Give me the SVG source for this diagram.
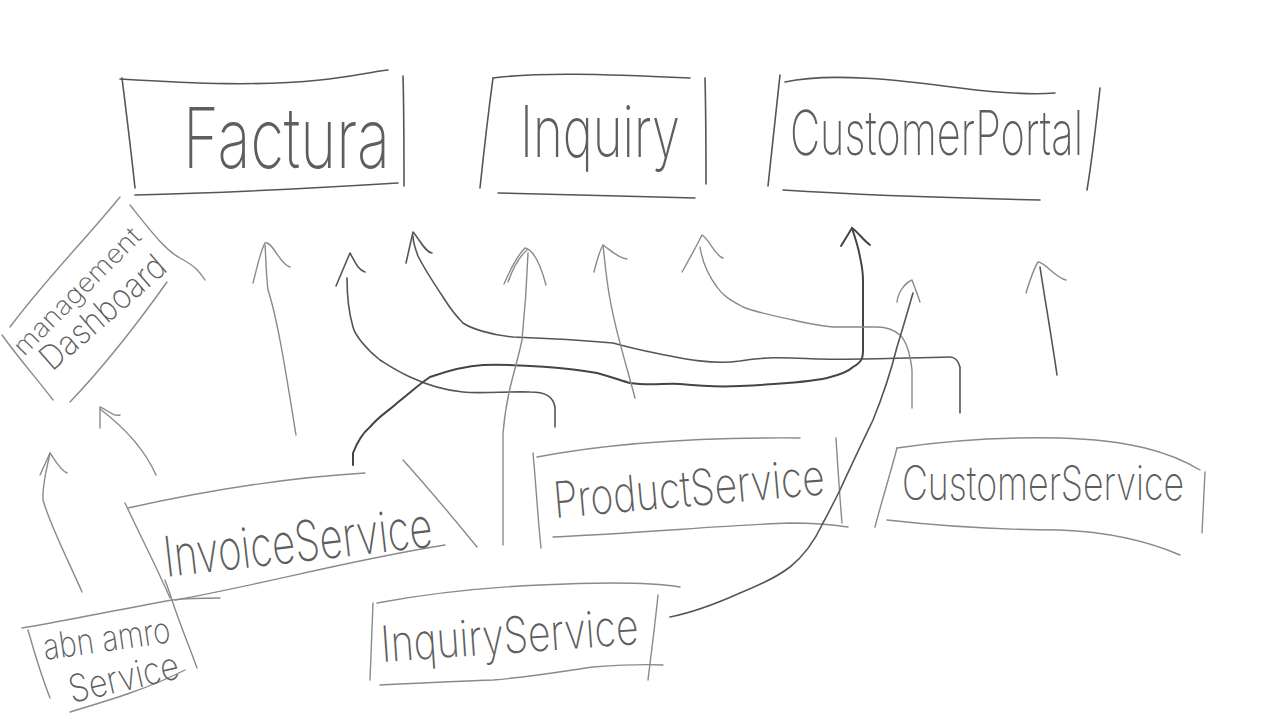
<svg xmlns="http://www.w3.org/2000/svg" width="1280" height="720" viewBox="0 0 1280 720">
<style>
.s{fill:none;stroke:#555;stroke-width:1.6;stroke-linecap:round;stroke-linejoin:round}
.l{fill:none;stroke:#8a8a8a;stroke-width:1.4;stroke-linecap:round;stroke-linejoin:round}
.d{fill:none;stroke:#444;stroke-width:2;stroke-linecap:round;stroke-linejoin:round}
.t{font-family:"Inter","Liberation Sans","DejaVu Sans",sans-serif;font-weight:200;fill:#5e5e5e}
</style>
<rect width="1280" height="720" fill="#fff"/>
<g id="factura">
<path class="s" d="M120 79 C200 84 260 86 320 80 C350 77 370 72 388 70"/>
<path class="s" d="M122 78 C126 110 131 150 135 188"/>
<path class="s" d="M403 76 C404 110 404 150 404 186"/>
<path class="s" d="M135 195 C220 193 300 189 398 183"/>
<text class="t" x="183" y="168" font-size="84" textLength="207" lengthAdjust="spacingAndGlyphs">Factura</text>
</g>
<g id="inquiry">
<path class="s" d="M493 78 C540 72 600 74 690 78"/>
<path class="s" d="M493 78 C488 115 484 150 480 188"/>
<path class="s" d="M705 78 C706 115 706 150 706 184"/>
<path class="s" d="M498 193 C560 195 630 196 695 198"/>
<text class="t" x="520" y="157" font-size="72" textLength="160" lengthAdjust="spacingAndGlyphs">Inquiry</text>
</g>
<g id="customerportal">
<path class="s" d="M785 82 C830 72 900 80 960 88 C1000 93 1030 95 1055 93"/>
<path class="s" d="M780 75 C776 110 772 150 768 186"/>
<path class="s" d="M1100 88 C1096 125 1092 160 1087 190"/>
<path class="s" d="M783 190 C860 195 950 198 1040 200"/>
<text class="t" x="790" y="155" font-size="62" textLength="293" lengthAdjust="spacingAndGlyphs">CustomerPortal</text>
</g>
<g id="managementdashboard">
<path class="l" d="M10 327 C45 280 85 240 120 197"/>
<path class="l" d="M130 205 C150 230 165 250 180 258 C195 266 200 272 205 280"/>
<path class="l" d="M167 282 C140 320 110 360 70 402"/>
<path class="l" d="M2 335 C20 360 38 380 53 400"/>
<text class="t" x="24" y="357" font-size="26" textLength="168" lengthAdjust="spacingAndGlyphs" transform="rotate(-45 24 357)">management</text>
<text class="t" x="52" y="372" font-size="34" textLength="155" lengthAdjust="spacingAndGlyphs" transform="rotate(-41 52 372)">Dashboard</text>
</g>
<g id="invoiceservice">
<path class="l" d="M128 508 C200 492 280 478 365 473"/>
<path class="l" d="M125 503 C140 535 157 568 170 598"/>
<path class="l" d="M403 460 C430 490 455 520 477 547"/>
<path class="l" d="M175 600 C260 585 350 560 445 545"/>
<text class="t" x="166" y="577" font-size="56" textLength="270" lengthAdjust="spacingAndGlyphs" transform="rotate(-6.5 166 577)">InvoiceService</text>
</g>
<g id="productservice">
<path class="l" d="M537 457 C600 445 680 437 800 438"/>
<path class="l" d="M533 453 C536 485 538 520 541 548"/>
<path class="l" d="M836 438 C838 470 840 500 842 523"/>
<path class="l" d="M553 537 C640 533 730 525 790 523 C815 523 835 525 848 527"/>
<text class="t" x="555" y="518" font-size="50" textLength="272" lengthAdjust="spacingAndGlyphs" transform="rotate(-5 555 518)">ProductService</text>
</g>
<g id="customerservice">
<path class="l" d="M897 448 C950 440 1010 437 1060 438 C1130 440 1170 452 1200 470"/>
<path class="l" d="M897 448 C890 475 882 500 875 527"/>
<path class="l" d="M887 520 C950 527 1010 530 1060 530 C1110 532 1150 542 1180 555"/>
<path class="l" d="M1205 472 C1204 495 1203 515 1202 533"/>
<text class="t" x="902" y="500" font-size="48" textLength="282" lengthAdjust="spacingAndGlyphs">CustomerService</text>
</g>
<g id="inquiryservice">
<path class="l" d="M377 603 C420 595 470 588 540 585 C600 582 650 582 680 587"/>
<path class="l" d="M373 603 C372 630 371 655 370 680"/>
<path class="l" d="M658 595 C655 625 651 655 648 680"/>
<path class="l" d="M380 685 C420 683 460 681 493 680 C540 676 570 670 593 667 C620 665 645 664 663 665"/>
<text class="t" x="382" y="662" font-size="50" textLength="258" lengthAdjust="spacingAndGlyphs" transform="rotate(-4 382 662)">InquiryService</text>
</g>
<g id="abnamroservice">
<path class="l" d="M22 628 C60 622 100 613 172 600 C190 598 205 598 220 598"/>
<path class="l" d="M28 630 C35 655 43 680 50 698"/>
<path class="l" d="M172 600 C180 625 190 648 197 668"/>
<path class="l" d="M70 712 C110 700 150 688 185 670"/>
<path class="l" d="M165 580 C168 588 170 594 172 600"/>
<text class="t" x="45" y="660" font-size="36" textLength="128" lengthAdjust="spacingAndGlyphs" transform="rotate(-8 45 660)">abn amro</text>
<text class="t" x="72" y="703" font-size="38" textLength="112" lengthAdjust="spacingAndGlyphs" transform="rotate(-13 72 703)">Service</text>
</g>
<g id="connectors">
<path class="l" d="M82 592 C68 560 50 525 43 500 C42 485 47 468 50 453"/>
<path class="l" d="M40 475 L50 453 C55 460 60 470 67 473"/>
<path class="l" d="M156 475 C145 450 125 428 100 409"/>
<path class="l" d="M100 428 L100 407 C108 410 113 417 120 415"/>
<path class="l" d="M296 435 C287 380 278 320 268 290 C266 275 266 258 265 245"/>
<path class="l" d="M253 283 C257 268 260 252 265 243 C272 240 280 265 290 267"/>
<path class="s" d="M555 427 L555 407 C553 396 545 392 530 392 C510 391 480 394 463 392 C440 390 423 383 410 377 C395 370 385 363 380 360 C365 348 355 335 353 327 C348 310 347 295 347 278"/>
<path class="s" d="M336 286 L350 253 C355 262 358 270 365 272"/>
<path class="s" d="M960 413 L960 367 C958 360 955 357 950 357 C900 358 860 360 820 359 C790 358 770 356 740 361 C710 365 680 358 660 354 C640 350 620 345 613 343 C580 340 540 338 513 337 C490 335 470 328 463 323 C455 315 448 305 443 297 C435 285 425 270 418 256 C415 248 413 242 413 236"/>
<path class="s" d="M406 263 L413 232 C420 240 425 252 432 253"/>
<path class="d" d="M353 465 L353 453 C358 440 364 432 370 427 C380 415 390 410 397 403 C410 393 418 385 430 377 C450 370 465 366 483 365 C520 364 570 368 597 373 C615 378 622 381 630 383 C650 386 665 383 680 384 C700 386 720 387 740 386 C780 384 810 382 827 378 C843 374 850 370 853 367 C862 362 863 358 863 350 L863 280 C863 270 861 262 860 257 C858 245 854 235 852 228"/>
<path class="d" d="M841 246 L852 228 C858 232 863 240 870 245"/>
<path class="l" d="M503 545 C503 510 503 470 503 433 C505 410 508 395 512 380 C516 365 520 350 522 340 C525 310 527 280 528 253"/>
<path class="l" d="M504 284 C510 270 518 255 525 248 C535 250 542 270 546 285"/>
<path class="l" d="M508 282 C513 268 520 256 527 250"/>
<path class="l" d="M635 398 C625 360 612 320 607 280 C605 265 604 255 603 245"/>
<path class="l" d="M594 272 C597 260 600 250 603 245 C610 250 618 258 627 259"/>
<path class="l" d="M912 408 L912 370 C910 352 905 340 900 335 C893 329 885 327 877 327 C860 327 845 327 833 327 C815 325 805 323 793 320 C770 315 755 312 743 307 C730 300 722 295 717 287 C708 275 702 260 700 247"/>
<path class="l" d="M682 272 C690 258 697 245 702 235 C710 240 715 256 723 258"/>
<path class="s" d="M670 617 C695 612 720 602 740 593 C760 585 777 577 790 567 C805 555 815 540 823 523 C830 510 835 500 840 490 C850 468 862 443 873 420 C882 398 890 375 897 347 C903 328 908 310 913 293"/>
<path class="l" d="M897 302 C898 292 905 283 912 280 C915 288 918 296 920 302"/>
<path class="s" d="M1057 375 C1052 340 1045 300 1040 267"/>
<path class="l" d="M1026 293 C1030 280 1034 268 1038 262 C1045 262 1055 278 1066 280"/>
</g>
</svg>
